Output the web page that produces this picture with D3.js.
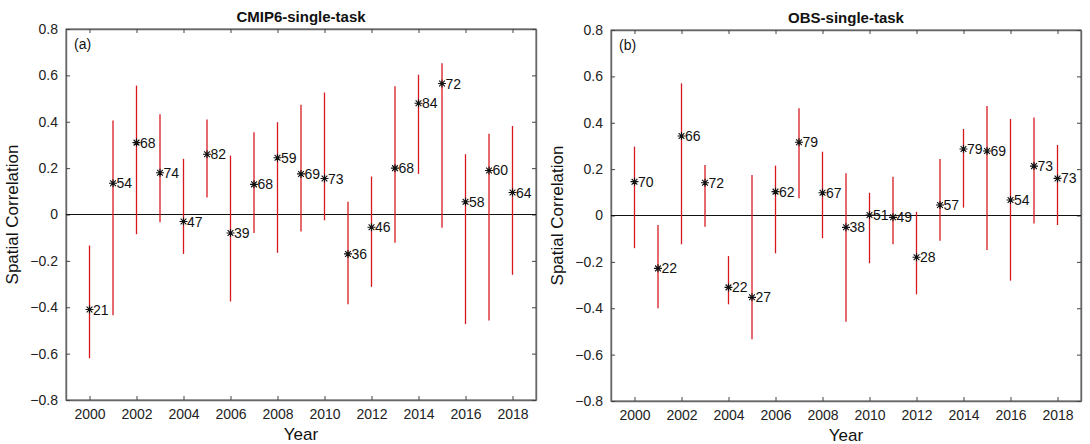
<!DOCTYPE html>
<meta charset="utf-8">
<head>
    <script src="https://d3js.org/d3.v7.min.js"></script>
    <style>
        body { margin: 0; background: #fff; }
        svg text { font-family: "Liberation Sans", Arial, sans-serif; }
    </style>
</head>
<body>
<div id="chart"></div>
<script>
    // data
    var years = d3.range(2000, 2019);

    var cmipValue = [-0.41, 0.135, 0.31, 0.18, -0.03, 0.26, -0.08, 0.13, 0.245, 0.175, 0.155, -0.17, -0.055, 0.20, 0.48, 0.565, 0.055, 0.19, 0.095];
    var cmipLow   = [-0.62, -0.435, -0.085, -0.033, -0.17, 0.073, -0.375, -0.08, -0.165, -0.073, -0.025, -0.387, -0.312, -0.122, 0.175, -0.057, -0.473, -0.457, -0.26];
    var cmipHigh  = [-0.134, 0.405, 0.556, 0.432, 0.24, 0.41, 0.254, 0.355, 0.398, 0.473, 0.526, 0.055, 0.164, 0.553, 0.603, 0.652, 0.26, 0.348, 0.382];
    var cmipCount = [21, 54, 68, 74, 47, 82, 39, 68, 59, 69, 73, 36, 46, 68, 84, 72, 58, 60, 64];

    var obsValue = [0.146, -0.228, 0.343, 0.141, -0.31, -0.353, 0.103, 0.316, 0.098, -0.051, 0.002, -0.008, -0.18, 0.045, 0.287, 0.278, 0.067, 0.213, 0.160];
    var obsLow   = [-0.141, -0.40, -0.124, -0.048, -0.383, -0.534, -0.163, 0.074, -0.098, -0.458, -0.206, -0.124, -0.34, -0.109, 0.034, -0.149, -0.281, -0.034, -0.041];
    var obsHigh  = [0.297, -0.041, 0.570, 0.218, -0.175, 0.175, 0.215, 0.462, 0.275, 0.182, 0.098, 0.167, 0.016, 0.244, 0.373, 0.472, 0.416, 0.423, 0.304];
    var obsCount = [70, 22, 66, 72, 22, 27, 62, 79, 67, 38, 51, 49, 28, 57, 79, 69, 54, 73, 73];

    var yTicks = [-0.8, -0.6, -0.4, -0.2, 0, 0.2, 0.4, 0.6, 0.8];
    var xTicks = d3.range(2000, 2019, 2);

    var panels = [
        {title: "CMIP6-single-task", tag: "(a)", left: 66, top: 29, value: cmipValue, low: cmipLow, high: cmipHigh, count: cmipCount},
        {title: "OBS-single-task", tag: "(b)", left: 611, top: 30, value: obsValue, low: obsLow, high: obsHigh, count: obsCount}
    ];

    var W = 1090, H = 444, pw = 470, ph = 371;

    var svg = d3.select("#chart").append("svg")
        .attr("width", W)
        .attr("height", H);

    var fmt = function(d) {
        if (d === 0) return "0";
        return d3.format(".1f")(d).replace("-", "\u2212");
    };

    panels.forEach(function(p) {
        var g = svg.append("g").attr("transform", "translate(" + p.left + "," + p.top + ")");

        var x = d3.scaleLinear().domain([1999, 2019]).range([0, pw]);
        var y = d3.scaleLinear().domain([-0.8, 0.8]).range([ph, 0]);

        // frame
        g.append("rect")
            .attr("width", pw).attr("height", ph)
            .attr("fill", "none").attr("stroke", "#777").attr("stroke-width", 1.2);

        // axes (ticks inside)
        var bottom = g.append("g").attr("transform", "translate(0," + ph + ")")
            .call(d3.axisBottom(x).tickValues(xTicks).tickFormat(d3.format("d")).tickSizeInner(-4).tickSizeOuter(0).tickPadding(9));
        var topAx = g.append("g")
            .call(d3.axisTop(x).tickValues(xTicks).tickFormat("").tickSizeInner(-4).tickSizeOuter(0));
        var leftAx = g.append("g")
            .call(d3.axisLeft(y).tickValues(yTicks).tickFormat(fmt).tickSizeInner(-4).tickSizeOuter(0).tickPadding(8));
        var rightAx = g.append("g").attr("transform", "translate(" + pw + ",0)")
            .call(d3.axisRight(y).tickValues(yTicks).tickFormat("").tickSizeInner(-4).tickSizeOuter(0));

        [bottom, topAx, leftAx, rightAx].forEach(function(a) {
            a.select(".domain").attr("stroke", "#666").attr("stroke-width", 1.4);
            a.selectAll(".tick line").attr("stroke", "#444");
            a.selectAll(".tick text").attr("fill", "#222").style("font-size", "14px");
        });

        // zero line
        g.append("line")
            .attr("x1", 0).attr("x2", pw)
            .attr("y1", y(0)).attr("y2", y(0))
            .attr("stroke", "#111").attr("stroke-width", 1);

        // red range bars
        g.append("g").selectAll("line")
            .data(years)
            .join("line")
            .attr("x1", function(d) { return x(d); })
            .attr("x2", function(d) { return x(d); })
            .attr("y1", function(d, i) { return y(p.low[i]); })
            .attr("y2", function(d, i) { return y(p.high[i]); })
            .attr("stroke", "#d7191f").attr("stroke-width", 1.3);

        // asterisk markers
        var r = 4;
        var star = "M" + (-r) + ",0L" + r + ",0M0," + (-r) + "L0," + r +
                   "M" + (-r * 0.72) + "," + (-r * 0.72) + "L" + (r * 0.72) + "," + (r * 0.72) +
                   "M" + (-r * 0.72) + "," + (r * 0.72) + "L" + (r * 0.72) + "," + (-r * 0.72);
        var pts = g.append("g").selectAll("g")
            .data(years)
            .join("g")
            .attr("transform", function(d, i) { return "translate(" + x(d) + "," + y(p.value[i]) + ")"; });
        pts.append("path").attr("d", star).attr("stroke", "#111").attr("stroke-width", 1.1).attr("fill", "none");
        pts.append("text")
            .attr("x", 3.5).attr("dy", "0.36em")
            .style("font-size", "14px").attr("fill", "#111")
            .text(function(d, i) { return p.count[i]; });

        // panel tag
        g.append("text").attr("x", 8).attr("y", 20)
            .style("font-size", "14px").attr("fill", "#111").text(p.tag);

        // title
        g.append("text").attr("x", pw / 2).attr("y", -7)
            .attr("text-anchor", "middle")
            .style("font-size", "15px").style("font-weight", "bold").attr("fill", "#111")
            .text(p.title);

        // axis labels
        g.append("text").attr("x", pw / 2).attr("y", ph + 40)
            .attr("text-anchor", "middle")
            .style("font-size", "17px").attr("fill", "#111").text("Year");
        g.append("text")
            .attr("transform", "translate(" + (-48) + "," + (ph / 2) + ") rotate(-90)")
            .attr("text-anchor", "middle")
            .style("font-size", "17px").attr("fill", "#111").text("Spatial Correlation");
    });
</script>
</body>
